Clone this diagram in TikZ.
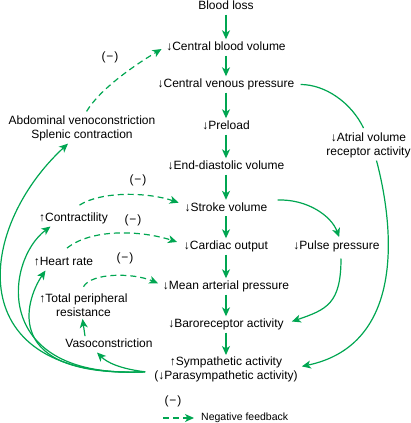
\documentclass[tikz,border=0pt]{standalone}
\usepackage{fontspec}
\setmainfont{Liberation Sans}
\usetikzlibrary{arrows.meta}
\definecolor{fbgreen}{HTML}{00A651}
\newcommand{\negsign}{(\kern1pt−\kern1pt)}
\begin{document}
\begin{tikzpicture}[x=1pt,y=-1pt,
  every node/.style={font=\fontsize{12}{14}\selectfont, inner sep=2pt},
  lbl/.style={text height=9pt,text depth=3pt},
  multi/.style={align=center},
  link/.style={draw=fbgreen, line width=1.2pt},
  conn/.style={link, -{Stealth[length=9pt,width=8pt,inset=2.5pt]}},
  neg/.style={conn, dash pattern=on 6pt off 4pt}]
\useasboundingbox (0,0) rectangle (410,423);

% main column
\node[lbl] (bl)   at (226,6.5)   {Blood loss};
\node[lbl] (cbv)  at (226,47.5)  {↓Central blood volume};
\node[lbl] (cvp)  at (226,84.5)  {↓Central venous pressure};
\node[lbl] (pre)  at (226,126.5) {↓Preload};
\node[lbl] (edv)  at (226,166.5) {↓End-diastolic volume};
\node[lbl] (sv)   at (226,208)   {↓Stroke volume};
\node[lbl] (co)   at (226,246.5) {↓Cardiac output};
\node[lbl] (map)  at (226,286.5) {↓Mean arterial pressure};
\node[lbl] (baro) at (226,324.5) {↓Baroreceptor activity};
\node[multi] (sym) at (226,369.8) {↑Sympathetic activity\\(↓Parasympathetic activity)};

% left side
\node[multi] (abd) at (82,128.8) {Abdominal venoconstriction\\Splenic contraction};
\node[lbl] (con)  at (73.5,218.3) {↑Contractility};
\node[lbl] (hr)   at (63.5,262.3) {↑Heart rate};
\node[multi] (tpr) at (83.5,305.3) {↑Total peripheral\\resistance};
\node[lbl] (vaso) at (109,344.3) {Vasoconstriction};

% right side
\node[lbl] (pp)  at (336.5,246.3) {↓Pulse pressure};
\node[multi] (atr) at (368.5,145.8) {↓Atrial volume\\receptor activity};

% (-) labels
\node (m1) at (110,57)  {\negsign};
\node (m2) at (138,180) {\negsign};
\node (m3) at (133,220) {\negsign};
\node (m4) at (125,258) {\negsign};
\node (m5) at (173,401) {\negsign};
\node[anchor=west, font=\fontsize{10.5}{12}\selectfont] (nf) at (199,418) {Negative feedback};

% column arrows
\draw[conn] (bl) -- (cbv);
\draw[conn] (cbv) -- (cvp);
\draw[conn] (cvp) -- (pre);
\draw[conn] (pre) -- (edv);
\draw[conn] (edv) -- (sv);
\draw[conn] (sv) -- (co);
\draw[conn] (co) -- (map);
\draw[conn] (map) -- (baro);
\draw[conn] (baro) -- (sym);

% right loop
\draw[link] ([xshift=4pt]cvp.east) .. controls +(25,0) and +(-12,-25) .. ([xshift=-5pt,yshift=3pt]atr.north);
\draw[conn, shorten >=2pt] ([xshift=8pt]atr.south) .. controls +(18,68) and +(105,-22) .. ([yshift=3pt]sym.east);
\draw[conn, shorten >=1pt] ([xshift=8pt,yshift=8pt]sv.east) .. controls +(30,-1) and +(-8,-22) .. ([xshift=3pt]pp.north);
\draw[conn] ([xshift=4.5pt,yshift=-4pt]pp.south) .. controls +(0,45) and +(35,-12) .. ([xshift=6pt,yshift=3pt]baro.east);

% sympathetic fan
\coordinate (fan) at ([xshift=-7pt,yshift=-2pt]sym.west);
\draw[conn] (fan) .. controls +(-25,-3) and +(10,10) .. ([xshift=-12pt]vaso.south);
\draw[conn] (fan) .. controls +(-144.5,6) and +(-20.5,30) .. ([xshift=-18pt]hr.south);
\draw[conn] (fan) .. controls +(-155,8) and +(-45.5,34) .. ([xshift=-23pt]con.south);
\draw[conn] (fan) .. controls +(-185,8) and +(-93,86) .. ([xshift=-14pt]abd.south);
\draw[conn] ([xshift=-24pt]vaso.north) -- ([xshift=-1pt]tpr.south);

% negative feedback
\draw[neg, shorten <=3pt, shorten >=3pt] ([xshift=3pt]abd.north) .. controls +(15,-25) and +(-30,18) .. (cbv.west);
\draw[neg, shorten >=4pt] ([xshift=6pt,yshift=5pt]con.north) .. controls +(22,-14) and +(-35,-12) .. ([yshift=4pt]sv.west);
\draw[neg, shorten >=5pt] ([xshift=3.5pt,yshift=6pt]hr.north) .. controls +(25,-20) and +(-40,-13) .. ([yshift=3pt]co.west);
\draw[neg, shorten >=3pt] ([yshift=5pt]tpr.north) .. controls +(8,-14) and +(-28,-12) .. ([yshift=2pt]map.west);

% legend
\coordinate (lg) at (163,418);
\draw[neg, shorten >=5pt] (lg) -- (nf.west);
\end{tikzpicture}
\end{document}
